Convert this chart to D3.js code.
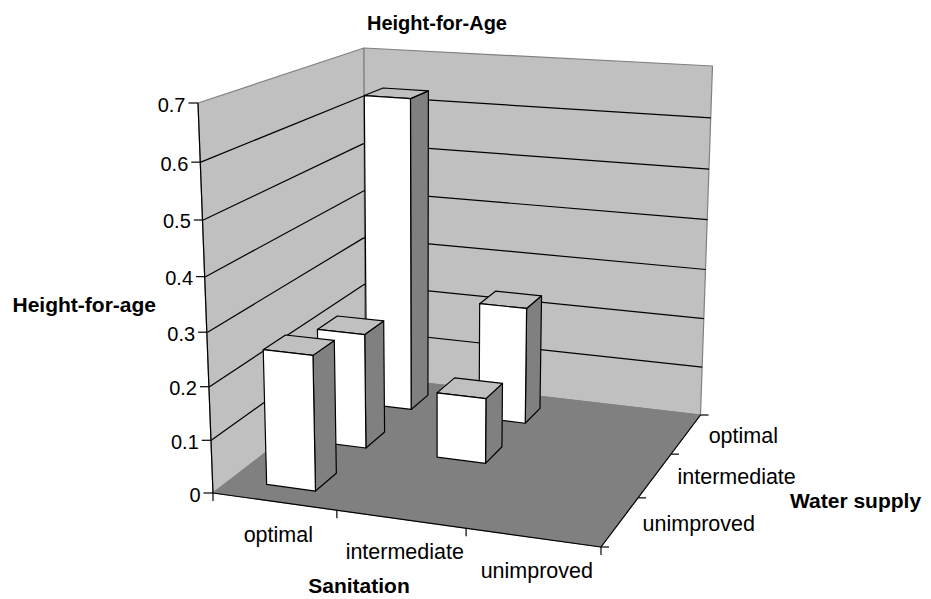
<!DOCTYPE html>
<html>
<head>
<meta charset="utf-8">
<script src="https://cdn.jsdelivr.net/npm/d3@7"></script>
<style>
  html, body { margin: 0; padding: 0; background: #fff; }
  svg { display: block; }
  text { font-family: "Liberation Sans", Arial, sans-serif; font-size: 21.5px; fill: #000; }
  .tick-label { font-size: 20px; }
  .axis-title { font-weight: bold; font-size: 21px; }
  .chart-title { font-weight: bold; font-size: 20px; }
</style>
</head>
<body>
<div id="chart"></div>
<script>
// Chart data
const sanitation = ['optimal', 'intermediate', 'unimproved'];
const waterSupply = ['unimproved', 'intermediate', 'optimal'];
const valueTicks = [0, 0.1, 0.2, 0.3, 0.4, 0.5, 0.6, 0.7];
const optimalSanitation = [0.255, 0.225, 0.632];
const intermediateSanitation = [null, 0.127, 0.235];
const unimprovedSanitation = [null, null, null];
const seriesValues = [optimalSanitation, intermediateSanitation, unimprovedSanitation];

const width = 931, height = 599;

// Screen position of the plot box corners, used to fit the projection
const floorCorners = [
    { u: 0, v: 0, sx: 213, sy: 493 },
    { u: 1, v: 0, sx: 601, sy: 547 },
    { u: 1, v: 1, sx: 700.5, sy: 415 },
    { u: 0, v: 1, sx: 365, sy: 376 }
];
const topCorners = [
    { u: 0, v: 0, sx: 198, sy: 103 },
    { u: 0, v: 1, sx: 364, sy: 48 },
    { u: 1, v: 1, sx: 712.5, sy: 66 }
];

function solve(A, b) {
    const n = b.length;
    const M = A.map((row, i) => [...row, b[i]]);
    for (let c = 0; c < n; c++) {
        let p = c;
        for (let r = c + 1; r < n; r++) if (Math.abs(M[r][c]) > Math.abs(M[p][c])) p = r;
        [M[c], M[p]] = [M[p], M[c]];
        for (let r = 0; r < n; r++) {
            if (r === c) continue;
            const f = M[r][c] / M[c][c];
            for (let k = c; k <= n; k++) M[r][k] -= f * M[c][k];
        }
    }
    return M.map((row, i) => row[n] / row[i]);
}

// Floor homography
const hA = [], hB = [];
floorCorners.forEach(c => {
    hA.push([c.u, c.v, 1, 0, 0, 0, -c.u * c.sx, -c.v * c.sx]); hB.push(c.sx);
    hA.push([0, 0, 0, c.u, c.v, 1, -c.u * c.sy, -c.v * c.sy]); hB.push(c.sy);
});
const h = solve(hA, hB);

// Height column, least squares over the top corners
const rows = [], rhs = [];
topCorners.forEach(c => {
    const X = h[0] * c.u + h[1] * c.v + h[2];
    const Y = h[3] * c.u + h[4] * c.v + h[5];
    const W = h[6] * c.u + h[7] * c.v + 1;
    rows.push([1, 0, -c.sx]); rhs.push(c.sx * W - X);
    rows.push([0, 1, -c.sy]); rhs.push(c.sy * W - Y);
});
const ata = [0, 1, 2].map(i => [0, 1, 2].map(j => d3.sum(rows, r => r[i] * r[j])));
const atb = [0, 1, 2].map(i => d3.sum(rows, (r, k) => r[i] * rhs[k]));
const [za, zb, zc] = solve(ata, atb);

function rawProject(u, v, w) {
    const d = h[6] * u + h[7] * v + 1 + zc * w;
    return [
        (h[0] * u + h[1] * v + h[2] + za * w) / d,
        (h[3] * u + h[4] * v + h[5] + zb * w) / d
    ];
}

// What the fit leaves over at the top corners is spread back over the height
const topResidual = topCorners.map(c => {
    const p = rawProject(c.u, c.v, 1);
    return [c.sx - p[0], c.sy - p[1]];
});

function project(u, v, w) {
    const p = rawProject(u, v, w);
    return [0, 1].map(k => p[k] + w * w * w * (
        (1 - u) * (1 - v) * topResidual[0][k] +
        (1 - u) * v * topResidual[1][k] +
        u * v * topResidual[2][k]));
}

// Scales
const xBand = d3.scaleBand().domain(sanitation).range([0, 1]).paddingInner(0.6).paddingOuter(0.3);
const yBand = d3.scaleBand().domain(waterSupply).range([0, 1]).paddingInner(0.6).paddingOuter(0.3);
const zScale = d3.scaleLinear().domain([0, 0.7]).range([0, 1]);

const svg = d3.select('#chart').append('svg').attr('width', width).attr('height', height);
const polyLine = d3.line();

function face(points, fill, stroke, strokeWidth) {
    svg.append('path')
        .attr('d', polyLine(points.map(p => project(p[0], p[1], p[2]))) + 'Z')
        .attr('fill', fill)
        .attr('stroke', stroke)
        .attr('stroke-width', strokeWidth)
        .attr('stroke-linejoin', 'round');
}

function segment(a, b, color, strokeWidth) {
    svg.append('path')
        .attr('d', polyLine([a, b]))
        .attr('fill', 'none')
        .attr('stroke', color)
        .attr('stroke-width', strokeWidth);
}

// Walls and floor
face([[0, 0, 0], [0, 1, 0], [0, 1, 1], [0, 0, 1]], '#c0c0c0', '#808080', 1.2);
face([[0, 1, 0], [1, 1, 0], [1, 1, 1], [0, 1, 1]], '#c0c0c0', '#808080', 1.2);
face([[0, 0, 0], [1, 0, 0], [1, 1, 0], [0, 1, 0]], '#808080', '#808080', 1);

// Gridlines
valueTicks.slice(1, -1).forEach(t => {
    const z = zScale(t);
    segment(project(0, 0, z), project(0, 1, z), '#000', 1.2);
    segment(project(0, 1, z), project(1, 1, z), '#000', 1.2);
});

// Bars, back to front
const bars = [];
sanitation.forEach((s, i) => waterSupply.forEach((w, j) => {
    const value = seriesValues[i][j];
    if (value !== null) bars.push({ s, w, value, i, j });
}));
bars.sort((a, b) => b.j - a.j || b.i - a.i);

bars.forEach(d => {
    const x0 = xBand(d.s), x1 = x0 + xBand.bandwidth();
    const y0 = yBand(d.w), y1 = y0 + yBand.bandwidth();
    const z = zScale(d.value);
    face([[x1, y0, 0], [x1, y1, 0], [x1, y1, z], [x1, y0, z]], '#808080', '#000', 1.2);
    face([[x0, y0, z], [x1, y0, z], [x1, y1, z], [x0, y1, z]], '#c0c0c0', '#000', 1.2);
    face([[x0, y0, 0], [x1, y0, 0], [x1, y0, z], [x0, y0, z]], '#ffffff', '#000', 1.2);
});

// Axis lines and ticks
segment(project(0, 0, 0), project(0, 0, 1), '#000', 1.2);
segment(project(0, 0, 0), project(1, 0, 0), '#000', 1.2);
segment(project(1, 0, 0), project(1, 1, 0), '#000', 1.2);

valueTicks.forEach(t => {
    const [px, py] = project(0, 0, zScale(t));
    segment([px - 9.5, py], [px, py], '#000', 1.2);
    svg.append('text')
        .attr('class', 'tick-label')
        .attr('x', px - 12.5)
        .attr('y', py + 8.5)
        .attr('text-anchor', 'end')
        .text(t);
});

d3.range(sanitation.length + 1).forEach(i => {
    const [px, py] = project(i / sanitation.length, 0, 0);
    segment([px, py], [px, py + 8], '#000', 1.2);
});
d3.range(waterSupply.length + 1).forEach(i => {
    const [px, py] = project(1, i / waterSupply.length, 0);
    segment([px, py], [px + 8, py], '#000', 1.2);
});

// Category labels
sanitation.forEach(s => {
    const [px, py] = project(xBand(s) + xBand.bandwidth() / 2, 0, 0);
    svg.append('text')
        .attr('x', px + 4)
        .attr('y', py + 40)
        .attr('text-anchor', 'middle')
        .text(s);
});
waterSupply.forEach(w => {
    const [px, py] = project(1, yBand(w) + yBand.bandwidth() / 2, 0);
    svg.append('text')
        .attr('x', px + 22.5)
        .attr('y', py + 9)
        .text(w);
});

// Titles
svg.append('text').attr('class', 'chart-title').attr('x', 437).attr('y', 30).attr('text-anchor', 'middle').text('Height-for-Age');
svg.append('text').attr('class', 'axis-title').attr('x', 12.5).attr('y', 312).text('Height-for-age');
svg.append('text').attr('class', 'axis-title').attr('x', 359).attr('y', 593).attr('text-anchor', 'middle').text('Sanitation');
svg.append('text').attr('class', 'axis-title').attr('x', 790).attr('y', 508).text('Water supply');
</script>
</body>
</html>
